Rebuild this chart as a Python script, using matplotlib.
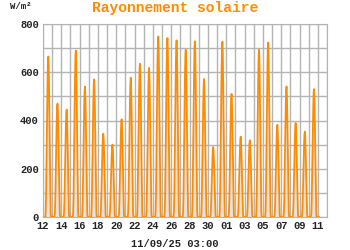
import matplotlib
matplotlib.use("Agg")
import matplotlib.pyplot as plt
import matplotlib.dates as mdates
import pandas as pd

# daily peak of solar radiation (W/m2), 12 Aug -> 10 Sep 2025
days = pd.date_range("2025-08-12", "2025-09-10", freq="D")
daily_peak = [665, 470, 445, 690, 540, 570, 345, 300, 405, 577,
              635, 618, 748, 742, 732, 693, 728, 572, 290, 726,
              510, 333, 318, 693, 723, 382, 541, 390, 354, 530]
# typical hourly shape of a day (fraction of the peak), hours 0..23
day_profile = [0, 0, 0, 0, 0, 0, 0, 0.03, 0.13, 0.3, 0.5, 0.7,
               0.86, 0.97, 1.0, 0.93, 0.78, 0.58, 0.36, 0.15, 0.03, 0, 0, 0]
# labelled days on the time axis
tick_days = pd.date_range("2025-08-12", "2025-09-11", freq="2D")

ORANGE = "#ff8c00"
GRID = "#b4b4b4"
MONO = ["Liberation Mono", "DejaVu Sans Mono"]

times, values = [], []
for day, peak in zip(days, daily_peak):
    for h, frac in enumerate(day_profile):
        times.append(day + pd.Timedelta(hours=h))
        values.append(peak * frac)
for h in range(4):
    times.append(days[-1] + pd.Timedelta(days=1, hours=h))
    values.append(0)

fig = plt.figure(figsize=(3.5, 2.5), dpi=100)
ax = fig.add_axes([43 / 350, 1 - 217 / 250, 284 / 350, 193 / 250])

ax.fill_between(times, values, 0, color="#dcdcdc", alpha=0.8, lw=0)
ax.plot(times, values, color=ORANGE, lw=1.3)

ax.set_xlim(pd.Timestamp("2025-08-12"), pd.Timestamp("2025-09-12"))
ax.set_ylim(0, 800)
ax.set_yticks(range(0, 801, 200))
ax.set_yticks(range(0, 801, 100), minor=True)
ax.set_xticks(tick_days)
ax.xaxis.set_minor_locator(mdates.DayLocator())
ax.xaxis.set_major_formatter(mdates.DateFormatter("%d"))
ax.grid(True, which="both", color=GRID, lw=1)
ax.set_axisbelow(True)
ax.tick_params(which="both", length=0, pad=3)
for lab in ax.get_xticklabels() + ax.get_yticklabels():
    lab.set_family(MONO)
    lab.set_fontweight("bold")
    lab.set_fontsize(7.5)
    lab.set_color("#222222")
for s in ax.spines.values():
    s.set_color(GRID)

fig.text(0.5, 0.968, "Rayonnement solaire", ha="center", va="center",
         family=MONO, fontweight="bold", fontsize=10.5, color=ORANGE)
fig.text(0.03, 0.975, "W/m²", ha="left", va="center",
         family=MONO, fontweight="bold", fontsize=6.5, color="#222222")
fig.text(0.5, 0.025, "11/09/25 03:00", ha="center", va="center",
         family=MONO, fontweight="bold", fontsize=7.5, color="#222222")

fig.savefig("out.png", dpi=100)
